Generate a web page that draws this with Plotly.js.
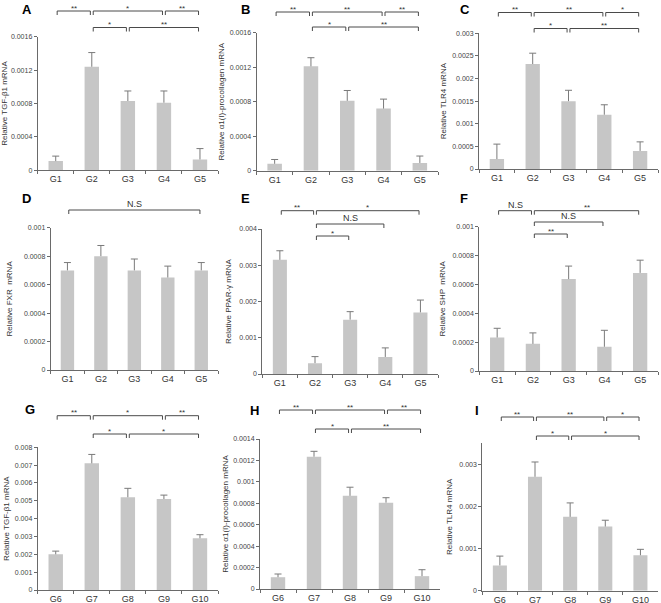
<!DOCTYPE html>
<html><head><meta charset="utf-8">
<script src="https://cdn.plot.ly/plotly-3.0.1.min.js"></script>
<style>html,body{margin:0;padding:0;background:#fff}#chart{width:661px;height:603px}</style>
</head><body><div id="chart"></div>
<script>
// ---------- data ----------
const groupsTop = ['G1','G2','G3','G4','G5'];
const groupsBottom = ['G6','G7','G8','G9','G10'];

const tgfA = [0.00011, 0.00124, 0.00083, 0.00081, 0.00013];
const tgfAErr = [0.00006, 0.00017, 0.00012, 0.00014, 0.00013];
const colB = [0.00008, 0.00121, 0.00081, 0.00072, 0.00009];
const colBErr = [0.00005, 0.00010, 0.00012, 0.00011, 0.00008];
const tlrC = [0.00022, 0.00232, 0.00150, 0.00120, 0.00040];
const tlrCErr = [0.00033, 0.00024, 0.00024, 0.00022, 0.00020];
const fxrD = [0.00070, 0.00080, 0.00070, 0.00065, 0.00070];
const fxrDErr = [0.000055, 0.000075, 0.00008, 0.00008, 0.000055];
const pparE = [0.00315, 0.00030, 0.00150, 0.00047, 0.00170];
const pparEErr = [0.00025, 0.00018, 0.00022, 0.00025, 0.00034];
const shpF = [0.000232, 0.000188, 0.000637, 0.000168, 0.00068];
const shpFErr = [0.000064, 0.000076, 0.00009, 0.000114, 0.000088];
const tgfG = [0.0020, 0.0071, 0.0052, 0.0051, 0.0029];
const tgfGErr = [0.00018, 0.0005, 0.0005, 0.00022, 0.0002];
const colH = [0.00011, 0.001235, 0.00087, 0.000806, 0.00012];
const colHErr = [0.00003, 0.00005, 0.00008, 0.000046, 0.00006];
const tlrI = [0.0006, 0.0027, 0.00175, 0.00152, 0.00084];
const tlrIErr = [0.00022, 0.00035, 0.00033, 0.00015, 0.00014];

const ticksA = [0, 0.0004, 0.0008, 0.0012, 0.0016];
const tickTextA = ['0', '0.0004', '0.0008', '0.0012', '0.0016'];
const ticksC = [0, 0.0005, 0.001, 0.0015, 0.002, 0.0025, 0.003];
const tickTextC = ['0', '0.0005', '0.001', '0.0015', '0.002', '0.0025', '0.003'];
const ticksD = [0, 0.0002, 0.0004, 0.0006, 0.0008, 0.001];
const tickTextD = ['0', '0.0002', '0.0004', '0.0006', '0.0008', '0.001'];
const ticksE = [0, 0.001, 0.002, 0.003, 0.004];
const tickTextE = ['0', '0.001', '0.002', '0.003', '0.004'];
const ticksG = [0, 0.001, 0.002, 0.003, 0.004, 0.005, 0.006, 0.007, 0.008];
const tickTextG = ['0', '0.001', '0.002', '0.003', '0.004', '0.005', '0.006', '0.007', '0.008'];
const ticksH = [0, 0.0002, 0.0004, 0.0006, 0.0008, 0.001, 0.0012, 0.0014];
const tickTextH = ['0', '0.0002', '0.0004', '0.0006', '0.0008', '0.001', '0.0012', '0.0014'];
const ticksI = [0, 0.001, 0.002, 0.003];
const tickTextI = ['0', '0.001', '0.002', '0.003'];

// significance brackets: [from index, to index, label, row]
const sigA = [[0,1,'**',1],[1,3,'*',1],[3,4,'**',1],[1,2,'*',2],[2,4,'**',2]];
const sigB = [[0,1,'**',1],[1,3,'**',1],[3,4,'**',1],[1,2,'*',2],[2,4,'**',2]];
const sigC = [[0,1,'**',1],[1,3,'**',1],[3,4,'*',1],[1,2,'*',2],[2,4,'**',2]];
const sigD = [[0,4,'N.S',1]];
const sigE = [[0,1,'**',1],[1,4,'*',1],[1,3,'N.S',2],[1,2,'*',3]];
const sigF = [[0,1,'N.S',1],[1,4,'**',1],[1,3,'N.S',2],[1,2,'**',3]];
const sigG = [[0,1,'**',1],[1,3,'*',1],[3,4,'**',1],[1,2,'*',2],[2,4,'*',2]];
const sigH = [[0,1,'**',1],[1,3,'**',1],[3,4,'**',1],[1,2,'*',2],[2,4,'**',2]];
const sigI = [[0,1,'**',1],[1,3,'**',1],[3,4,'*',1],[1,2,'*',2],[2,4,'*',2]];

// ---------- layout boxes (pixels) ----------
const W = 661, H = 603;
const panels = [
  {letter:'A', cats:groupsTop, v:tgfA, e:tgfAErr, tv:ticksA, tt:tickTextA, max:0.0016, title:'Relative TGF-β1 mRNA', sig:sigA,
   x0:37.7, x1:218, zero:170.3, top:36.7, rows:[11,27.5], lx:27, ly:0.5, so:3},
  {letter:'B', cats:groupsTop, v:colB, e:colBErr, tv:ticksA, tt:tickTextA, max:0.0016, title:'Relative α1(I)-procollagen mRNA', sig:sigB,
   x0:256.5, x1:438, zero:170.7, top:32.7, rows:[12,27], lx:245, ly:0.5, so:3},
  {letter:'C', cats:groupsTop, v:tlrC, e:tlrCErr, tv:ticksC, tt:tickTextC, max:0.003, title:'Relative TLR4 mRNA', sig:sigC,
   x0:479, x1:658, zero:169, top:33.3, rows:[12.5,28.5], lx:465, ly:0.5, so:4},
  {letter:'D', cats:groupsTop, v:fxrD, e:fxrDErr, tv:ticksD, tt:tickTextD, max:0.001, title:'Relative FXR  mRNA', sig:sigD,
   x0:50.7, x1:218, zero:370, top:227.7, rows:[210], lx:26, ly:190, so:10},
  {letter:'E', cats:groupsTop, v:pparE, e:pparEErr, tv:ticksE, tt:tickTextE, max:0.004, title:'Relative PPAR-γ mRNA', sig:sigE,
   x0:262.3, x1:438, zero:374, top:229, rows:[210.7,224,236], lx:246, ly:190, so:6},
  {letter:'F', cats:groupsTop, v:shpF, e:shpFErr, tv:ticksD, tt:tickTextD, max:0.001, title:'Relative SHP  mRNA', sig:sigF,
   x0:479.3, x1:658, zero:371, top:226.7, rows:[210.7,222,234], lx:464, ly:190, so:5},
  {letter:'G', cats:groupsBottom, v:tgfG, e:tgfGErr, tv:ticksG, tt:tickTextG, max:0.008, title:'Relative TGF-β1 mRNA', sig:sigG,
   x0:37.7, x1:218, zero:590, top:447.3, rows:[415.7,434], lx:30, ly:401, so:3},
  {letter:'H', cats:groupsBottom, v:colH, e:colHErr, tv:ticksH, tt:tickTextH, max:0.0014, title:'Relative α1(I)-procollagen mRNA', sig:sigH,
   x0:260, x1:440, zero:589, top:439, rows:[410,429], lx:254, ly:402, so:3},
  {letter:'I', cats:groupsBottom, v:tlrI, e:tlrIErr, tv:ticksI, tt:tickTextI, max:0.0035, title:'Relative TLR4 mRNA', sig:sigI,
   x0:482.3, x1:658, zero:590.7, top:443, rows:[417,436], lx:477, ly:402, so:5}
];

const FONT = 'Liberation Sans, Arial, sans-serif';
const barColor = '#c6c6c6';
const errColor = '#7a7a7a';
const axColor = '#6a6a6a';

const data = [];
const layout = {
  width: W, height: H, margin: {l:0, r:0, t:0, b:0}, autosize:false,
  paper_bgcolor:'#ffffff', plot_bgcolor:'rgba(0,0,0,0)',
  showlegend:false, font:{family:FONT, color:'#333'},
  shapes:[], annotations:[]
};

panels.forEach((p, k) => {
  const n = k + 1;
  const xa = 'x' + (n === 1 ? '' : n), ya = 'y' + (n === 1 ? '' : n);
  const xk = 'xaxis' + (n === 1 ? '' : n), yk = 'yaxis' + (n === 1 ? '' : n);
  data.push({
    type:'bar', x:p.cats, y:p.v, xaxis:xa, yaxis:ya, width:0.4,
    marker:{color:barColor, line:{width:0}},
    error_y:{type:'data', array:p.e, arrayminus:p.e.map(() => 0), symmetric:false, width:0, thickness:1, color:errColor},
    hoverinfo:'x+y'
  });
  data.push({
    type:'scatter', mode:'markers', x:p.cats, y:p.v.map((val, i) => val + p.e[i]), xaxis:xa, yaxis:ya,
    marker:{symbol:'line-ew', size:5, line:{width:1, color:errColor}}, hoverinfo:'skip'
  });
  layout[xk] = {
    type:'category', domain:[p.x0 / W, p.x1 / W], anchor:ya, range:[-0.5, 4.5],
    showline:true, linecolor:axColor, linewidth:1, ticks:'outside', tickson:'boundaries',
    ticklen:3, tickcolor:axColor, tickwidth:1, showgrid:false, zeroline:false,
    tickfont:{family:FONT, size:9, color:'#333'}, fixedrange:true
  };
  layout[yk] = {
    domain:[1 - p.zero / H, 1 - p.top / H], anchor:xa, range:[0, p.max],
    tickmode:'array', tickvals:p.tv, ticktext:p.tt,
    showline:true, linecolor:axColor, linewidth:1, ticks:'outside', ticklen:3,
    tickcolor:axColor, tickwidth:1, showgrid:false, zeroline:false,
    tickfont:{family:FONT, size:7, color:'#444'}, fixedrange:true,
    title:{text:p.title, font:{family:FONT, size:8, color:'#333'}, standoff:p.so}
  };
  // brackets
  p.sig.forEach(s => {
    const [i, j, lab, row] = s;
    const yp = 1 - p.rows[row - 1] / H;
    const yb = yp - 4 / H;
    const a = i + 0.04, b = j - 0.04;
    const ln = {color:'#4a4a4a', width:1};
    layout.shapes.push({type:'line', xref:xa, yref:'paper', x0:a, x1:b, y0:yp, y1:yp, line:ln});
    layout.shapes.push({type:'line', xref:xa, yref:'paper', x0:a, x1:a, y0:yp, y1:yb, line:ln});
    layout.shapes.push({type:'line', xref:xa, yref:'paper', x0:b, x1:b, y0:yp, y1:yb, line:ln});
    const isNS = lab === 'N.S';
    layout.annotations.push({
      xref:xa, yref:'paper', x:(a + b) / 2, y:yp, yanchor:'bottom', xanchor:'center',
      yshift: isNS ? 0 : -2.5, borderpad:0,
      text:lab, showarrow:false, font:{family:FONT, size:isNS ? 9 : 8, color:'#333'}
    });
  });
  layout.annotations.push({
    xref:'paper', yref:'paper', x:p.lx / W, y:1 - p.ly / H, xanchor:'center', yanchor:'top',
    text:'<b>' + p.letter + '</b>', showarrow:false, borderpad:0, font:{family:FONT, size:13, color:'#000'}
  });
});

Plotly.newPlot('chart', data, layout, {displayModeBar:false, staticPlot:true});
</script>
</body></html>
